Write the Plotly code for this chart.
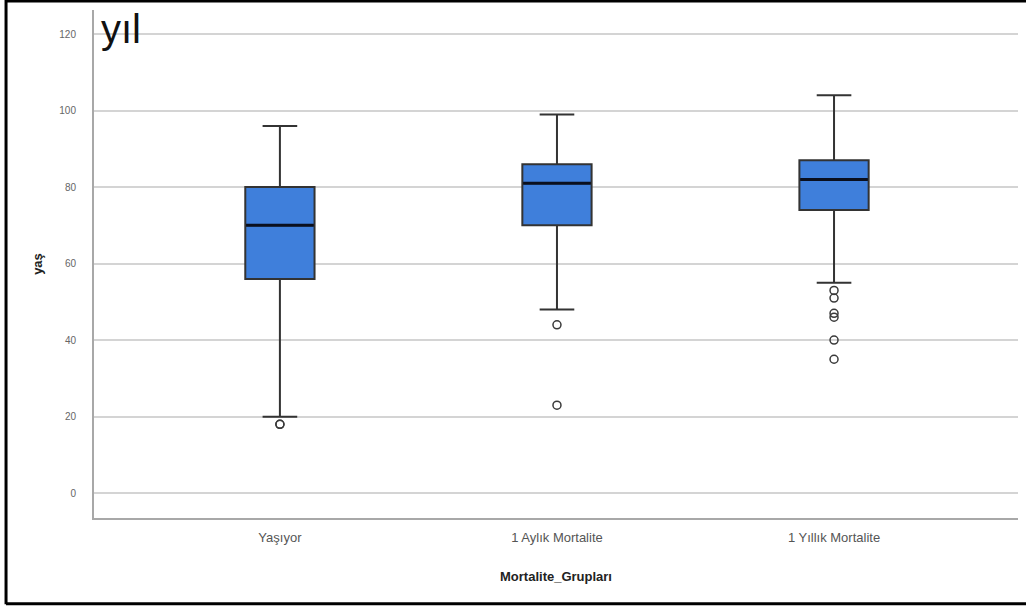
import plotly.graph_objects as go

categories = ["Yaşıyor", "1 Aylık Mortalite", "1 Yıllık Mortalite"]
q1 = [56, 70, 74]
median = [70, 81, 82]
q3 = [80, 86, 87]
lower_whisker = [20, 48, 55]
upper_whisker = [96, 99, 104]
outliers = [
    [18, 18],
    [44, 23],
    [53, 51, 47, 46, 40, 35],
]
y_ticks = [0, 20, 40, 60, 80, 100, 120]

BOX_W = 0.25
FILL = "#3f7fdb"
EDGE = "#333333"

fig = go.Figure()
xs = list(range(len(categories)))

fig.add_trace(go.Box(
    x=xs, q1=q1, median=median, q3=q3,
    lowerfence=lower_whisker, upperfence=upper_whisker,
    width=BOX_W, whiskerwidth=0.5,
    fillcolor=FILL, line=dict(color=EDGE, width=2),
    boxpoints=False, showlegend=False, hoverinfo="skip",
))

# thick median lines
for i, m in enumerate(median):
    fig.add_trace(go.Scatter(
        x=[i - BOX_W / 2 + 0.003, i + BOX_W / 2 - 0.003], y=[m, m],
        mode="lines", line=dict(color="#0a0f1e", width=3),
        showlegend=False, hoverinfo="skip",
    ))

# outliers
ox, oy = [], []
for i, vals in enumerate(outliers):
    for v in vals:
        ox.append(i)
        oy.append(v)
fig.add_trace(go.Scatter(
    x=ox, y=oy, mode="markers",
    marker=dict(symbol="circle-open", size=8, color="#3a3a3a", line=dict(width=1.5)),
    showlegend=False, hoverinfo="skip",
))

fig.update_layout(
    width=1026, height=607,
    margin=dict(l=94, r=8, t=10, b=89),
    paper_bgcolor="white", plot_bgcolor="white",
    font=dict(family="Liberation Sans, Arial, sans-serif", color="#444"),
    xaxis=dict(
        range=[-0.671, 2.664], tickvals=xs, ticktext=categories,
        showgrid=False, zeroline=False, showline=True, linecolor="#a8a8a8", linewidth=2,
        tickfont=dict(size=13, color="#555"), ticks="", ticklabelstandoff=6,
        title=dict(text="<b>Mortalite_Grupları</b>", font=dict(size=13, color="#222"), standoff=28),
    ),
    yaxis=dict(
        range=[-6.5, 126.3], tickvals=y_ticks,
        showgrid=True, gridcolor="#d4d4d4", gridwidth=2,
        zeroline=False, showline=True, linecolor="#a8a8a8", linewidth=2,
        tickfont=dict(size=10, color="#666"), ticks="", ticklabelstandoff=14,
        title=dict(text="<b>yaş</b>", font=dict(size=13, color="#222"), standoff=14),
    ),
    shapes=[
        dict(type="line", xref="paper", yref="paper", x0=-0.0952, x1=-0.0952, y0=-0.17, y1=1.02,
             line=dict(color="black", width=3)),
        dict(type="line", xref="paper", yref="paper", x0=-0.0952, x1=1.01, y0=1.0175, y1=1.0175,
             line=dict(color="black", width=3)),
        dict(type="line", xref="paper", yref="paper", x0=-0.0952, x1=1.01, y0=-0.169, y1=-0.169,
             line=dict(color="black", width=3)),
    ],
    annotations=[
        dict(text="yıl", xref="paper", yref="paper", x=0.005, y=1.01, xanchor="left", yanchor="top",
             showarrow=False, font=dict(size=40, color="#111", family="Liberation Sans, Arial, sans-serif")),
    ],
)

fig.write_html("out.html")
